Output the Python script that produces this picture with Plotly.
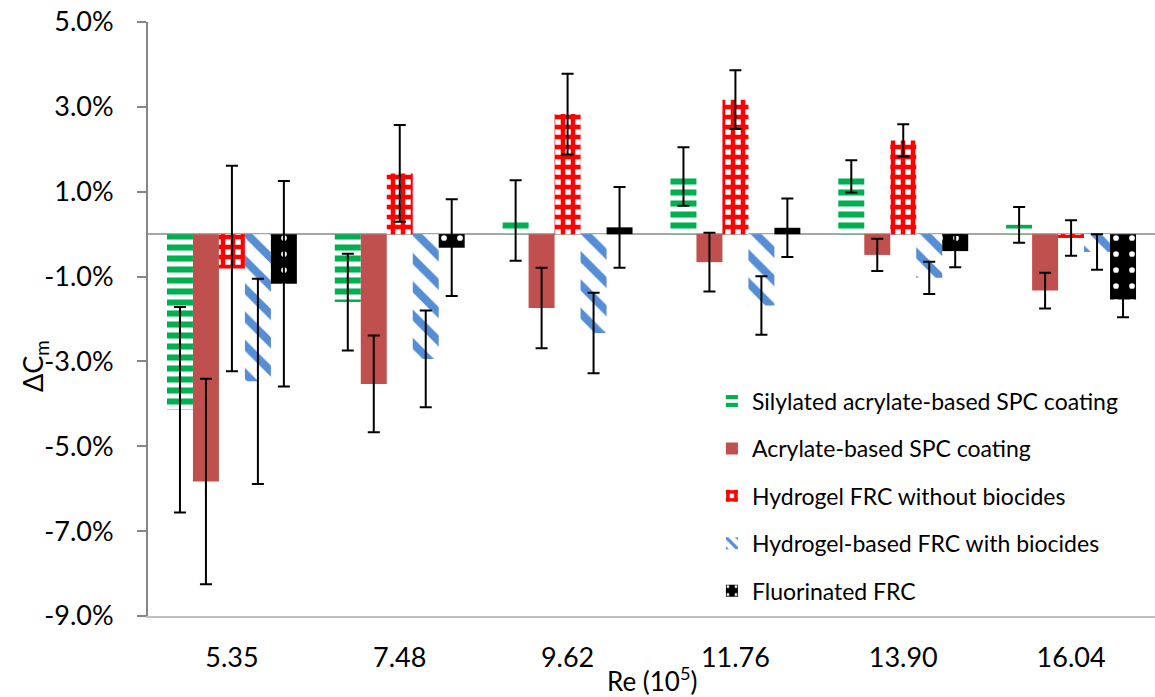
import plotly.graph_objects as go

categories = ["5.35", "7.48", "9.62", "11.76", "13.90", "16.04"]
silylated_spc = [-4.14, -1.60, 0.32, 1.36, 1.36, 0.22]
acrylate_spc = [-5.83, -3.53, -1.74, -0.66, -0.49, -1.33]
hydrogel_no_biocides = [-0.81, 1.43, 2.83, 3.17, 2.21, -0.09]
hydrogel_biocides = [-3.47, -2.94, -2.33, -1.68, -1.03, -0.42]
fluorinated_frc = [-1.17, -0.32, 0.16, 0.15, -0.40, -1.54]
error_values = [2.42, 1.14, 0.95, 0.69, 0.38, 0.42]

y_tickvals = [-9, -7, -5, -3, -1, 1, 3, 5]
y_ticktext = ["-9.0%", "-7.0%", "-5.0%", "-3.0%", "-1.0%", "1.0%", "3.0%", "5.0%"]

FONT = "Lato"

series = [
    ("Silylated acrylate-based SPC coating", silylated_spc,
     dict(color="#00B050", pattern=dict(shape="-", fgcolor="#00B050", bgcolor="white",
                                        fgopacity=1, size=11, solidity=0.55))),
    ("Acrylate-based SPC coating", acrylate_spc,
     dict(color="#C0504D")),
    ("Hydrogel FRC without biocides", hydrogel_no_biocides,
     dict(color="#FF0000", pattern=dict(shape="+", fgcolor="#FF0000", bgcolor="white",
                                        fgopacity=1, size=10, solidity=0.7))),
    ("Hydrogel-based FRC with biocides", hydrogel_biocides,
     dict(color="#558ED5", pattern=dict(shape="\\", fgcolor="#558ED5", bgcolor="white",
                                        fgopacity=1, size=20, solidity=0.4))),
    ("Fluorinated FRC", fluorinated_frc,
     dict(color="black", pattern=dict(shape=".", fgcolor="white", bgcolor="black",
                                      fillmode="overlay", fgopacity=1, size=16, solidity=0.1))),
]

fig = go.Figure()
for i, (name, vals, marker) in enumerate(series):
    marker = dict(marker)
    marker["line"] = dict(width=0)
    fig.add_trace(go.Bar(
        name=name, x=categories, y=vals, marker=marker,
        legendgroup=f"g{i}",
        error_y=dict(type="data", array=error_values, visible=True,
                     color="black", thickness=2, width=6),
    ))

fig.update_layout(
    width=1155, height=697, autosize=False,
    margin=dict(l=148, r=0, t=22, b=81),
    plot_bgcolor="white", paper_bgcolor="white",
    barmode="group", bargap=0.226, bargroupgap=0,
    font=dict(family=FONT, color="black"),
    showlegend=True,
    legend=dict(x=0.56, y=0.398, xanchor="left", yanchor="top",
                font=dict(family=FONT, size=23, color="black"),
                bgcolor="rgba(0,0,0,0)", tracegroupgap=14.5,
                traceorder="grouped"),
    xaxis=dict(type="category", showline=True, linecolor="#BFBFBF", linewidth=2,
               ticks="", showgrid=False, zeroline=False,
               tickfont=dict(family=FONT, size=27, color="black"),
               ticklabelstandoff=17),
    yaxis=dict(range=[-9, 5], tickvals=y_tickvals, ticktext=y_ticktext,
               showline=True, linecolor="#868686", linewidth=2,
               ticks="outside", ticklen=9, tickwidth=2, tickcolor="#868686",
               showgrid=False, zeroline=True, zerolinecolor="#A6A6A6", zerolinewidth=2,
               tickfont=dict(family=FONT, size=27, color="black"),
               ticklabelstandoff=18),
    annotations=[
        dict(text="Re (10<sup>5</sup>)", xref="paper", yref="paper",
             x=0.5005, y=-0.1077, xanchor="center", yanchor="middle",
             showarrow=False, font=dict(family=FONT, size=26, color="black")),
        dict(text="ΔC<sub>m</sub>", xref="paper", yref="paper",
             x=-0.1122, y=0.4209, xanchor="center", yanchor="middle",
             textangle=-90, showarrow=False, font=dict(family=FONT, size=27, color="black")),
    ],
)

fig.write_html("out.html")
